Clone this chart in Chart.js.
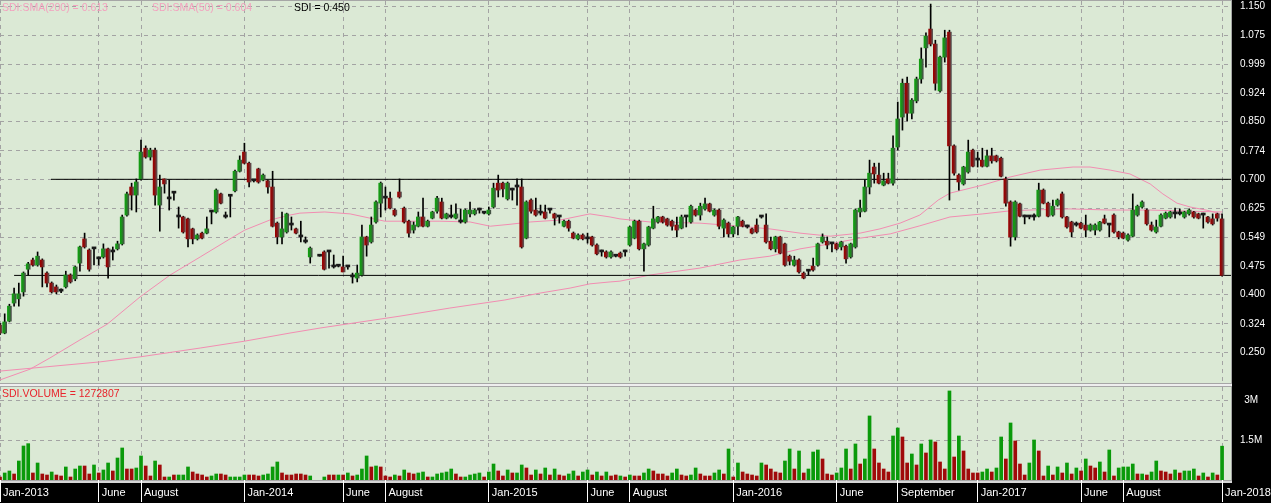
<!DOCTYPE html>
<html>
<head>
<meta charset="utf-8">
<title>SDI weekly</title>
<script src="https://cdn.jsdelivr.net/npm/chart.js@4.4.1/dist/chart.umd.min.js"></script>
<style>
  html, body { margin: 0; padding: 0; background: #000; }
  #wrap { position: relative; width: 1271px; height: 503px; overflow: hidden; font-family: "Liberation Sans", Arial, sans-serif; }
  #wrap canvas { position: absolute; left: 0; }
  #price { top: 0; }
  #vol { top: 384px; }
  .note { position: absolute; font-size: 10.5px; line-height: 12px; white-space: nowrap; }
</style>
</head>
<body>
<div id="wrap">
  <canvas id="price" width="1271" height="384"></canvas>
  <canvas id="vol" width="1271" height="119"></canvas>
  <div class="note" style="left:2px;top:1px;color:#f3a2bf">SDI:SMA(200) = 0.613</div>
  <div class="note" style="left:152px;top:1px;color:#f3a2bf">SDI:SMA(50) = 0.604</div>
  <div class="note" style="left:294px;top:1px;color:#000">SDI = 0.450</div>
  <div class="note" style="left:2px;top:387px;color:#e8242c">SDI.VOLUME = 1272807</div>
</div>
<script>
// weekly candles, index 0 = first week of Jan-2013
const open = [
  0.321,0.300,0.331,0.378,0.389,0.407,0.466,0.490,0.477,0.490,0.456,0.430,0.420,0.409,0.420,0.451,0.441,0.482,0.545,0.516,
  0.519,0.493,0.498,0.519,0.511,0.519,0.532,0.607,0.680,0.659,0.701,0.781,0.758,0.776,0.633,0.701,0.649,0.664,0.602,0.602,
  0.597,0.571,0.545,0.560,0.560,0.615,0.615,0.662,0.602,0.656,0.670,0.721,0.771,0.742,0.696,0.727,0.698,0.696,0.680,0.586,
  0.550,0.563,0.581,0.571,0.550,0.537,0.498,null,0.500,0.511,0.511,0.472,0.474,0.472,0.472,0.446,0.443,0.451,0.550,0.537,
  0.589,0.638,0.651,0.651,0.620,0.667,0.625,0.591,0.568,0.578,0.602,0.578,0.599,0.617,0.641,0.599,0.602,0.599,0.589,0.589,
  0.610,0.610,0.620,0.612,0.610,0.628,0.690,0.690,0.649,0.672,0.680,0.680,0.547,0.646,0.620,0.612,0.615,0.620,0.610,0.602,
  0.578,0.591,0.560,0.545,0.555,0.545,0.550,0.529,0.511,0.511,0.498,0.500,0.508,0.511,0.529,0.547,0.591,0.519,0.529,0.573,
  0.589,0.602,0.597,0.591,0.581,0.573,0.602,0.589,0.620,0.607,0.623,0.636,0.607,0.620,0.573,0.586,0.558,0.578,0.591,0.576,
  0.571,0.581,0.602,0.581,0.539,0.519,0.550,0.532,0.500,0.477,0.490,0.456,0.461,0.474,0.477,0.537,0.539,0.532,0.532,0.524,
  0.526,0.498,0.524,0.615,0.617,0.680,0.732,0.711,0.685,0.701,0.690,0.784,0.862,0.950,0.872,0.904,0.961,1.042,1.091,1.052,
  0.930,1.018,1.083,0.787,0.711,0.688,0.719,0.776,0.750,0.750,0.734,0.761,0.761,0.755,0.701,0.641,0.550,0.636,0.602,0.602,
  0.602,0.604,0.672,0.638,0.607,0.633,0.662,0.602,0.589,0.581,0.586,0.581,0.568,0.568,0.568,0.597,0.581,0.607,0.563,0.560,
  0.542,0.552,0.607,0.628,0.620,0.581,0.563,0.578,0.599,0.602,0.610,0.610,0.602,0.610,0.615,0.610,0.607,0.602,0.597,0.610,
  0.597];
const high = [
  0.325,0.350,0.375,0.417,0.430,0.459,0.484,0.495,0.511,0.493,0.459,0.433,0.425,0.415,0.461,0.454,0.474,0.526,0.560,0.519,
  0.521,0.498,0.532,0.521,0.524,0.539,0.607,0.667,0.690,0.701,0.802,0.787,0.781,0.781,0.711,0.701,0.698,0.667,0.628,0.604,
  0.599,0.573,0.558,0.563,0.602,0.617,0.675,0.664,0.615,0.659,0.724,0.761,0.794,0.745,0.698,0.729,0.714,0.698,0.721,0.589,
  0.615,0.612,0.602,0.573,0.591,0.550,0.524,null,0.500,0.514,0.511,0.503,0.477,0.500,0.474,0.456,0.477,0.581,0.552,0.602,
  0.644,0.693,0.680,0.667,0.623,0.701,0.628,0.594,0.589,0.615,0.651,0.594,0.617,0.656,0.651,0.612,0.633,0.636,0.623,0.623,
  0.641,0.623,0.625,0.617,0.628,0.690,0.711,0.693,0.693,0.677,0.701,0.701,0.644,0.649,0.651,0.633,0.633,0.623,0.612,0.604,
  0.594,0.594,0.563,0.558,0.558,0.560,0.552,0.532,0.516,0.514,0.514,0.503,0.511,0.516,0.578,0.594,0.594,0.534,0.578,0.630,
  0.604,0.604,0.599,0.594,0.602,0.607,0.604,0.633,0.623,0.638,0.651,0.638,0.623,0.623,0.597,0.589,0.578,0.604,0.594,0.581,
  0.573,0.597,0.604,0.610,0.550,0.552,0.552,0.534,0.503,0.500,0.493,0.459,0.464,0.495,0.534,0.558,0.550,0.534,0.534,0.539,
  0.529,0.534,0.623,0.646,0.698,0.750,0.742,0.742,0.716,0.716,0.813,0.901,0.961,0.966,0.910,0.966,1.042,1.081,1.156,1.062,
  1.021,1.088,1.088,0.790,0.714,0.734,0.802,0.779,0.771,0.781,0.776,0.781,0.763,0.758,0.706,0.644,0.644,0.638,0.607,0.604,
  0.610,0.690,0.675,0.641,0.646,0.649,0.667,0.604,0.591,0.589,0.589,0.607,0.584,0.584,0.591,0.607,0.584,0.610,0.565,0.563,
  0.558,0.662,0.633,0.644,0.623,0.589,0.594,0.610,0.615,0.617,0.625,0.623,0.617,0.623,0.617,0.612,0.612,0.604,0.610,0.612,
  0.610];
const low = [
  0.296,0.298,0.329,0.370,0.370,0.396,0.451,0.474,0.474,0.420,0.420,0.404,0.402,0.405,0.417,0.430,0.436,0.461,0.521,0.461,
  0.477,0.477,0.495,0.443,0.490,0.516,0.529,0.604,0.620,0.615,0.698,0.755,0.750,0.633,0.565,0.664,0.620,0.646,0.573,0.560,
  0.524,0.532,0.542,0.545,0.558,0.584,0.612,0.636,0.599,0.602,0.667,0.719,0.740,0.680,0.693,0.690,0.696,0.664,0.576,0.532,
  0.532,0.560,0.568,0.558,0.537,0.534,0.482,null,0.500,0.464,0.469,0.469,0.472,0.459,0.466,0.430,0.433,0.448,0.500,0.534,
  0.586,0.602,0.620,0.623,0.604,0.651,0.586,0.550,0.560,0.576,0.576,0.576,0.597,0.612,0.597,0.597,0.599,0.597,0.586,0.586,
  0.602,0.607,0.612,0.610,0.607,0.625,0.654,0.654,0.646,0.646,0.633,0.521,0.545,0.612,0.604,0.607,0.597,0.612,0.581,0.586,
  0.576,0.565,0.545,0.542,0.542,0.534,0.526,0.503,0.500,0.495,0.495,0.498,0.495,0.500,0.526,0.545,0.516,0.461,0.526,0.571,
  0.586,0.586,0.578,0.568,0.550,0.571,0.576,0.586,0.604,0.594,0.620,0.615,0.604,0.571,0.550,0.550,0.550,0.555,0.576,0.573,
  0.558,0.560,0.599,0.534,0.516,0.511,0.506,0.474,0.477,0.474,0.456,0.441,0.451,0.461,0.474,0.534,0.519,0.511,0.516,0.516,
  0.482,0.495,0.521,0.602,0.615,0.662,0.690,0.688,0.683,0.688,0.685,0.776,0.828,0.852,0.857,0.899,0.950,0.992,1.047,0.932,
  0.927,1.005,0.646,0.711,0.672,0.685,0.716,0.732,0.732,0.732,0.732,0.742,0.745,0.706,0.630,0.526,0.542,0.602,0.584,0.597,
  0.594,0.602,0.636,0.602,0.604,0.630,0.599,0.573,0.550,0.578,0.571,0.550,0.565,0.555,0.565,0.584,0.550,0.560,0.545,0.545,
  0.539,0.550,0.604,0.625,0.581,0.565,0.560,0.576,0.597,0.599,0.599,0.607,0.599,0.607,0.599,0.597,0.573,0.586,0.581,0.591,
  0.448];
const close = [
  0.300,0.329,0.370,0.402,0.402,0.456,0.480,0.477,0.500,0.472,0.430,0.407,0.407,0.409,0.451,0.433,0.472,0.524,0.524,0.466,
  0.519,0.493,0.519,0.472,0.511,0.532,0.602,0.662,0.659,0.693,0.771,0.758,0.776,0.659,0.680,0.688,0.649,0.664,0.602,0.563,
  0.545,0.545,0.555,0.547,0.571,0.615,0.672,0.638,0.602,0.656,0.721,0.750,0.742,0.693,0.696,0.693,0.711,0.680,0.578,0.550,
  0.571,0.610,0.581,0.560,0.550,0.537,0.521,null,0.500,0.466,0.511,0.472,0.474,0.459,0.472,0.446,0.456,0.550,0.529,0.581,
  0.641,0.690,0.651,0.625,0.607,0.654,0.589,0.560,0.581,0.602,0.578,0.591,0.615,0.651,0.599,0.610,0.602,0.610,0.589,0.620,
  0.620,0.620,0.620,0.612,0.620,0.677,0.672,0.675,0.690,0.672,0.680,0.524,0.641,0.617,0.607,0.612,0.599,0.620,0.599,0.602,
  0.591,0.573,0.547,0.555,0.545,0.545,0.529,0.506,0.511,0.498,0.511,0.500,0.498,0.511,0.576,0.591,0.519,0.532,0.576,0.597,
  0.602,0.589,0.581,0.578,0.568,0.602,0.602,0.630,0.607,0.630,0.636,0.617,0.620,0.578,0.594,0.558,0.576,0.602,0.578,0.576,
  0.560,0.563,0.602,0.537,0.519,0.550,0.508,0.477,0.487,0.490,0.459,0.443,0.461,0.464,0.532,0.550,0.529,0.532,0.519,0.537,
  0.493,0.532,0.620,0.625,0.680,0.716,0.714,0.690,0.696,0.690,0.781,0.857,0.950,0.872,0.906,0.961,1.013,1.073,1.052,0.950,
  1.018,1.068,0.787,0.716,0.693,0.732,0.771,0.734,0.750,0.734,0.761,0.748,0.748,0.708,0.638,0.550,0.641,0.604,0.602,0.602,
  0.602,0.672,0.638,0.604,0.630,0.646,0.602,0.576,0.563,0.581,0.573,0.568,0.581,0.581,0.589,0.586,0.581,0.563,0.550,0.547,
  0.555,0.620,0.630,0.641,0.584,0.568,0.576,0.607,0.612,0.615,0.610,0.610,0.615,0.620,0.602,0.599,0.607,0.589,0.584,0.599,
  0.450];

const volume = [
  113000,264000,339000,226000,715000,1280000,1368000,264000,640000,226000,188000,301000,188000,151000,490000,113000,414000,527000,527000,226000,
  565000,264000,377000,640000,339000,828000,1205000,414000,414000,452000,904000,527000,151000,715000,565000,113000,113000,188000,188000,188000,
  490000,301000,226000,188000,113000,151000,226000,226000,188000,113000,113000,113000,188000,188000,188000,151000,188000,226000,490000,678000,
  264000,188000,188000,226000,226000,188000,151000,0,0,113000,188000,188000,188000,188000,264000,151000,188000,414000,904000,490000,
  527000,490000,151000,113000,188000,151000,377000,264000,226000,264000,301000,113000,113000,226000,264000,301000,414000,226000,113000,113000,
  188000,226000,264000,113000,301000,602000,339000,151000,377000,264000,264000,565000,452000,188000,377000,226000,452000,188000,414000,188000,
  151000,226000,339000,151000,301000,377000,188000,301000,151000,301000,151000,188000,151000,113000,188000,151000,151000,264000,414000,339000,
  226000,226000,151000,264000,414000,188000,151000,188000,452000,226000,151000,151000,264000,377000,226000,1167000,113000,640000,301000,226000,
  188000,151000,640000,565000,414000,301000,264000,715000,1167000,414000,1092000,264000,414000,1054000,1130000,791000,226000,188000,264000,452000,
  1167000,414000,1356000,602000,791000,2410000,1167000,640000,414000,301000,1657000,1958000,1619000,640000,979000,565000,1356000,1017000,1506000,1431000,
  678000,414000,3351000,866000,1657000,1092000,414000,264000,264000,301000,414000,301000,452000,1619000,791000,2146000,1469000,602000,188000,640000,
  1506000,1092000,151000,527000,188000,490000,264000,640000,226000,452000,339000,791000,527000,452000,678000,301000,1130000,151000,452000,490000,
  490000,602000,226000,226000,188000,301000,715000,339000,301000,226000,377000,264000,339000,339000,414000,151000,264000,113000,264000,188000,
  1272807];
// 1 = green volume bar, 0 = red
const volumeUp = [
  0,1,1,0,1,1,1,0,1,0,0,1,0,0,1,0,1,1,0,0,
  1,0,1,1,0,1,1,0,0,1,1,0,0,1,0,0,1,0,1,1,
  1,0,0,0,0,1,1,0,0,1,1,1,1,0,0,0,1,1,1,1,
  0,0,0,0,0,0,1,1,1,1,0,0,1,0,1,0,1,1,1,0,
  1,0,0,0,1,0,1,0,0,1,1,0,1,1,1,1,1,0,0,1,
  1,1,1,0,1,1,0,0,1,0,1,1,0,0,1,0,1,0,1,0,
  0,1,1,0,1,1,0,1,0,1,0,0,1,0,1,0,0,1,1,0,
  0,0,0,1,1,0,0,1,1,0,0,0,1,1,0,1,0,1,0,0,
  0,0,1,0,0,0,0,1,1,0,1,0,1,1,1,0,0,0,1,1,
  1,0,1,0,1,1,0,0,0,0,1,1,0,0,1,0,1,0,1,0,
  0,0,1,0,1,0,0,0,0,1,1,0,1,1,0,1,0,0,0,1,
  1,0,0,1,0,1,0,1,0,1,0,1,0,0,1,0,1,0,1,1,
  1,1,0,1,0,1,1,0,0,0,1,0,1,1,1,0,1,0,1,0,
  1];

// moving averages (week position, price)
const sma50Weeks = [0, 6.4, 10.6, 17, 22.8, 29.8, 36.2, 42.6, 49.6, 52.1, 57.4, 61.7, 63.8, 69.1, 74.5, 78.7, 81.9, 93.6, 100,
  104.3, 108.5, 112.8, 119.1, 125.5, 129.8, 131.9, 138.3, 148.9, 157.4, 163.8, 170.2, 176.6, 183, 187.2, 191.5, 195.7,
  199.6, 202.1, 209.1, 214.9, 221.3, 228.3, 231.9, 236.2, 240.4, 244.7, 247.4, 250.4, 253.2, 257.4, 260];
const sma50Values = [0.178, 0.206, 0.235, 0.282, 0.323, 0.394, 0.451, 0.498, 0.550, 0.568, 0.594, 0.607, 0.612, 0.615, 0.610, 0.599, 0.591, 0.591, 0.589,
  0.578, 0.583, 0.589, 0.594, 0.610, 0.602, 0.597, 0.589, 0.586, 0.578, 0.571, 0.560, 0.552, 0.560, 0.571, 0.586, 0.607,
  0.646, 0.664, 0.685, 0.706, 0.724, 0.732, 0.732, 0.724, 0.714, 0.688, 0.662, 0.638, 0.628, 0.618, 0.608];
const sma200Weeks = [0, 21.3, 29.8, 42.6, 52.1, 61.7, 68.1, 85.1, 95.7, 107.4, 114.9, 121.3, 125.5, 129.8, 131.9, 138.3, 148.9,
  157.4, 163.8, 170.2, 176.6, 183, 189.4, 195.7, 202.1, 209.1, 214.9, 219.1, 227.7, 236.2, 244.7, 253.2, 260];
const sma200Values = [0.201, 0.225, 0.238, 0.261, 0.279, 0.300, 0.313, 0.344, 0.365, 0.386, 0.404, 0.417, 0.428, 0.433, 0.435, 0.451, 0.469,
  0.490, 0.500, 0.519, 0.532, 0.547, 0.558, 0.579, 0.602, 0.610, 0.618, 0.620, 0.623, 0.620, 0.620, 0.617, 0.615];

// horizontal levels drawn on the chart
const levelValues = [0.700, 0.450];
const levelStartWeeks = [10.85, 3.0];

// axes
const monthWeeks = [0, 21, 30, 52, 73, 82, 104, 125, 134, 156, 178, 191, 208, 230, 239, 260];
const monthLabels = ['Jan-2013', 'June', 'August', 'Jan-2014', 'June', 'August', 'Jan-2015', 'June', 'August',
  'Jan-2016', 'June', 'September', 'Jan-2017', 'June', 'August', 'Jan-2018'];
const priceTicks = [1.150, 1.075, 0.999, 0.924, 0.850, 0.774, 0.700, 0.625, 0.549, 0.475, 0.400, 0.324, 0.250];
const volTicks = [1500000, 3000000];
const volTickLabels = ['1.5M', '3M'];

const X_MAX = 261.9;
const FONT = '"Liberation Sans", Arial, sans-serif';
const GRID = '#a3a3a3';
const PLOT_BG = '#dbe9d5';

// black frame, light green plot
const panelBg = {
  id: 'panelBg',
  beforeDraw(chart, args, opts) {
    const { ctx, chartArea: a, width, height } = chart;
    ctx.save();
    ctx.fillStyle = '#000';
    ctx.fillRect(0, 0, width, height);
    ctx.fillStyle = '#a6a6a6';
    ctx.fillRect(0, a.top - 1, a.right + 1, a.bottom - a.top + 2);
    if (opts.topStrip) {
      ctx.fillStyle = '#eeeeee';
      ctx.fillRect(0, 0, a.right + 1, a.top - 1);
      ctx.fillStyle = '#d6d6d6';
      ctx.fillRect(0, a.bottom + 1, a.right + 1, 2);
    }
    ctx.fillStyle = PLOT_BG;
    ctx.fillRect(a.left, a.top, a.right - a.left, a.bottom - a.top);
    ctx.restore();
  }
};

function monthTicks(axis) {
  axis.ticks = monthWeeks.map(v => ({ value: v }));
}

function bodyColor(c) {
  const d = c.raw;
  if (!d || !d.y) return '#000';
  const o = d.y[0], cl = d.y[1];
  if (o === cl) return '#1a1a1a';
  const solid = cl > o ? '#168e16' : '#8c0c0c';
  const sx = c.chart.scales && c.chart.scales.x;
  if (!sx) return solid;
  const x = sx.getPixelForValue(d.x);
  if (!Number.isFinite(x)) return solid;
  const g = c.chart.ctx.createLinearGradient(x - 2, 0, x + 2, 0);
  if (cl > o) {
    g.addColorStop(0, '#0fa00f');
    g.addColorStop(0.45, '#1f8a1f');
    g.addColorStop(1, '#4a4a4a');
  } else {
    g.addColorStop(0, '#9c0000');
    g.addColorStop(0.45, '#861010');
    g.addColorStop(1, '#585858');
  }
  return g;
}

const bodies = [], wicks = [];
open.forEach((o, i) => {
  if (o === null) return;
  bodies.push({ x: i, y: [o, close[i]] });
  wicks.push({ x: i, y: [low[i], high[i]] });
});

const sma50 = sma50Weeks.map((w, k) => ({ x: w, y: sma50Values[k] }));
const sma200 = sma200Weeks.map((w, k) => ({ x: w, y: sma200Values[k] }));
const levelSets = levelValues.map((v, k) => ({
  type: 'line',
  data: [{ x: levelStartWeeks[k], y: v }, { x: X_MAX, y: v }],
  borderColor: '#000',
  borderWidth: 1,
  pointRadius: 0,
  order: 3
}));

new Chart(document.getElementById('price'), {
  type: 'bar',
  data: {
    datasets: [
      { type: 'line', data: sma200, borderColor: '#f28db2', borderWidth: 1, pointRadius: 0, order: 5 },
      { type: 'line', data: sma50, borderColor: '#f28db2', borderWidth: 1, pointRadius: 0, order: 4 },
      ...levelSets,
      { data: wicks, backgroundColor: '#000', barThickness: 1, grouped: false, order: 2 },
      { data: bodies, backgroundColor: bodyColor, barThickness: 4, minBarLength: 2, grouped: false, order: 1 }
    ]
  },
  options: {
    responsive: false,
    animation: false,
    events: [],
    layout: { padding: { top: 1, bottom: 1, left: 0, right: 0 } },
    plugins: { legend: { display: false }, tooltip: { enabled: false }, panelBg: { topStrip: false } },
    scales: {
      x: {
        type: 'linear', min: 0, max: X_MAX, offset: false,
        grid: { color: GRID, offset: false, drawTicks: false },
        border: { display: false, dash: [4, 4] },
        ticks: { display: false, autoSkip: false },
        afterBuildTicks: monthTicks,
        afterFit: s => { s.height = 0; s.paddingLeft = 0; s.paddingRight = 0; }
      },
      y: {
        type: 'linear', position: 'right', min: 0.170, max: 1.164,
        grid: { color: GRID, drawTicks: false },
        border: { display: false, dash: [4, 4] },
        ticks: {
          color: '#fff', font: { family: FONT, size: 10 }, crossAlign: 'center', padding: 9, autoSkip: false,
          callback: v => v.toFixed(3)
        },
        afterBuildTicks: s => { s.ticks = priceTicks.map(v => ({ value: v })); },
        afterFit: s => { s.width = 40; s.paddingTop = 0; s.paddingBottom = 0; }
      }
    }
  },
  plugins: [panelBg]
});

new Chart(document.getElementById('vol'), {
  type: 'bar',
  data: {
    datasets: [{
      data: volume.map((v, i) => ({ x: i, y: v })).filter(p => p.y > 0),
      backgroundColor: c => (c.raw && volumeUp[c.raw.x]) ? '#0a9a0a' : '#a00a0a',
      barThickness: 3
    }]
  },
  options: {
    responsive: false,
    animation: false,
    events: [],
    layout: { padding: { top: 3, bottom: 0, left: 0, right: 0 } },
    plugins: { legend: { display: false }, tooltip: { enabled: false }, panelBg: { topStrip: true } },
    scales: {
      x: {
        type: 'linear', min: 0, max: X_MAX, offset: false,
        grid: { color: GRID, offset: false, drawTicks: true, tickLength: 22, tickColor: '#fff', tickWidth: 1 },
        border: { display: false, dash: [4, 4] },
        ticks: {
          color: '#fff', font: { family: FONT, size: 11 }, align: 'start', labelOffset: 3, padding: -16,
          maxRotation: 0, autoSkip: false,
          callback: v => monthLabels[monthWeeks.indexOf(v)]
        },
        afterBuildTicks: monthTicks,
        afterFit: s => { s.height = 23; s.paddingLeft = 0; s.paddingRight = 0; }
      },
      y: {
        type: 'linear', position: 'right', min: 0, max: 3500000,
        grid: { color: GRID, drawTicks: false },
        border: { display: false, dash: [4, 4] },
        ticks: {
          color: '#fff', font: { family: FONT, size: 10 }, crossAlign: 'center', padding: 9, autoSkip: false,
          callback: v => volTickLabels[volTicks.indexOf(v)]
        },
        afterBuildTicks: s => { s.ticks = volTicks.map(v => ({ value: v })); },
        afterFit: s => { s.width = 40; s.paddingTop = 0; s.paddingBottom = 0; }
      }
    }
  },
  plugins: [panelBg]
});
</script>
</body>
</html>
